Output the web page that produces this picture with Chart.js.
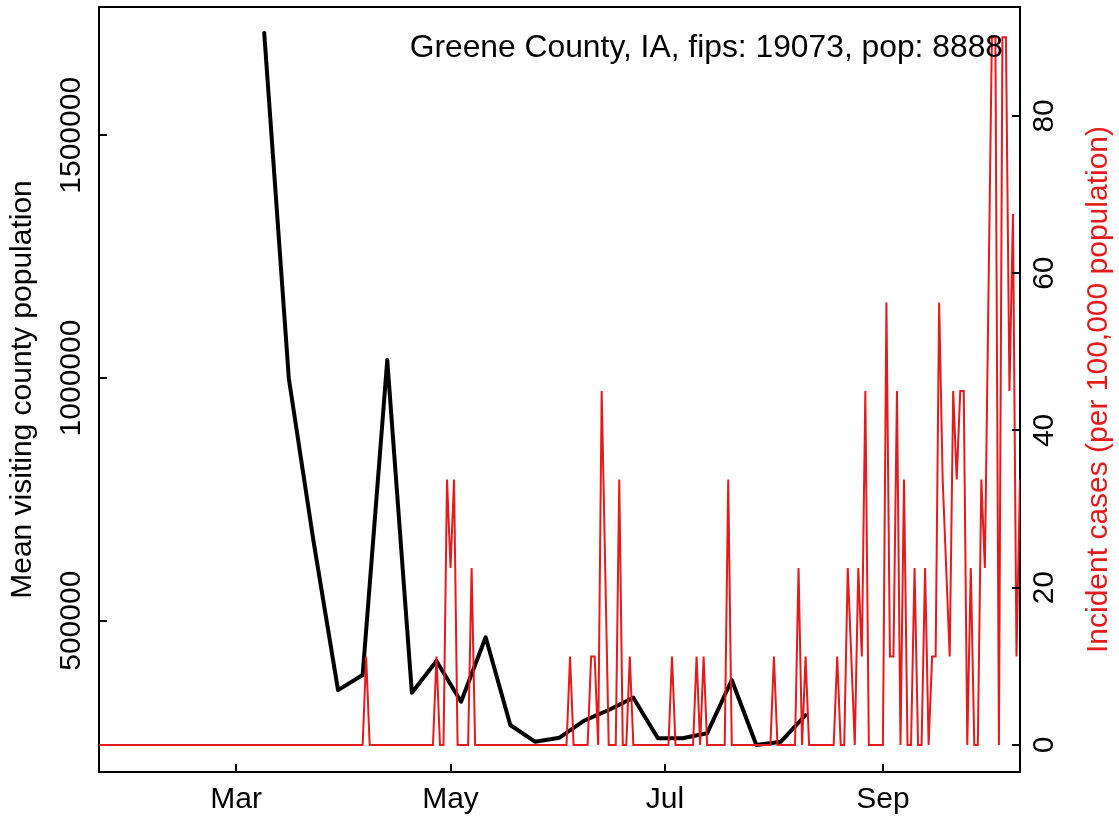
<!DOCTYPE html>
<html><head><meta charset="utf-8">
<script src="https://cdn.jsdelivr.net/npm/chart.js@4/dist/chart.umd.min.js"></script>
<style>html,body{margin:0;padding:0;background:#fff;}</style>
</head><body>
<canvas id="c" width="1119" height="822"></canvas>
<script>
// ---------------- data ----------------
const startDate = '2020-01-22';   // first day of the daily case series
const endDate = '2020-10-10';     // last day shown on the x axis

const weekDates = ['2020-03-09','2020-03-16','2020-03-23','2020-03-30','2020-04-06','2020-04-13',
  '2020-04-20','2020-04-27','2020-05-04','2020-05-11','2020-05-18','2020-05-25','2020-06-01',
  '2020-06-08','2020-06-15','2020-06-22','2020-06-29','2020-07-06','2020-07-13','2020-07-20',
  '2020-07-27','2020-08-03','2020-08-10'];
const visitingPop = [1711000, 999000, 665000, 357000, 388000, 1037000, 351700, 417000, 333100,
  465800, 285100, 250700, 259000, 294000, 316000, 341400, 257700, 257700, 268000, 377800,
  244000, 250700, 305700];

// daily incident cases per 100,000 population, one value per day from startDate
const incidentPer100k = [
  0,0,0,0,0,0,0,0,0,0,
  0,0,0,0,0,0,0,0,0,0,
  0,0,0,0,0,0,0,0,0,0,
  0,0,0,0,0,0,0,0,0,0,
  0,0,0,0,0,0,0,0,0,0,
  0,0,0,0,0,0,0,0,0,0,
  0,0,0,0,0,0,0,0,0,0,
  0,0,0,0,0,0,11.25,0,0,0,
  0,0,0,0,0,0,0,0,0,0,
  0,0,0,0,0,0,11.25,0,0,33.75,
  22.5,33.75,0,0,0,0,22.5,0,0,0,
  0,0,0,0,0,0,0,0,0,0,
  0,0,0,0,0,0,0,0,0,0,
  0,0,0,0,11.25,0,0,0,0,0,
  11.25,11.25,0,45.01,22.5,0,0,0,33.75,0,
  0,11.25,0,0,0,0,0,0,0,0,
  0,0,0,11.25,0,0,0,0,0,0,
  11.25,0,11.25,0,0,0,0,0,0,33.75,
  0,0,0,0,0,0,0,0,0,0,
  0,0,11.25,0,0,0,0,0,0,22.5,
  0,11.25,0,0,0,0,0,0,0,0,
  11.25,0,0,22.5,11.25,0,22.5,11.25,45.01,0,
  0,0,0,0,56.26,11.25,11.25,45.01,0,33.75,
  0,0,22.5,0,0,22.5,0,11.25,11.25,56.26,
  33.75,22.5,11.25,45.01,33.75,45.01,45.01,0,22.5,0,
  0,33.75,22.5,56.26,90.01,90.01,0,90.01,90.01,45.01,
  67.51,11.25,33.75
];

const xTickDates = ['2020-03-01','2020-05-01','2020-07-01','2020-09-01'];
const xTickLabels = ['Mar','May','Jul','Sep'];
const leftTicks = [500000, 1000000, 1500000];
const rightTicks = [0, 20, 40, 60, 80];

const titleText = 'Greene County, IA, fips: 19073, pop: 8888';
const leftTitle = 'Mean visiting county population';
const rightTitle = 'Incident cases (per 100,000 population)';

// ---------------- helpers ----------------
const DAY = 86400000;
const t0 = Date.parse(startDate + 'T00:00:00Z');
const dayOf = d => Math.round((Date.parse(d + 'T00:00:00Z') - t0) / DAY);

const RED = '#e41a1c';
const FONT = "'Liberation Sans', Arial, Helvetica, sans-serif";
Chart.defaults.font.family = FONT;
Chart.defaults.font.size = 30;
Chart.defaults.color = '#000';

const redPts = incidentPer100k.map((v, i) => ({x: i, y: v}));
const blackPts = weekDates.map((d, i) => ({x: dayOf(d), y: visitingPop[i]}));
const xTickVals = xTickDates.map(dayOf);

const TICK = 8;
const framePlugin = {
  id: 'frame',
  afterDraw(chart) {
    const {ctx, chartArea: a, scales} = chart;
    ctx.save();
    ctx.strokeStyle = '#000';
    ctx.lineWidth = 2;
    ctx.beginPath();
    ctx.moveTo(a.left - 1, a.top);
    ctx.lineTo(a.right + 1, a.top);
    // inward tick marks, placed through the scales
    scales.x.ticks.forEach(t => {
      const px = Math.round(scales.x.getPixelForValue(t.value));
      ctx.moveTo(px, a.bottom); ctx.lineTo(px, a.bottom - TICK);
    });
    scales.y.ticks.forEach(t => {
      const py = Math.round(scales.y.getPixelForValue(t.value));
      ctx.moveTo(a.left, py); ctx.lineTo(a.left + TICK, py);
    });
    scales.y2.ticks.forEach(t => {
      const py = Math.round(scales.y2.getPixelForValue(t.value));
      ctx.moveTo(a.right, py); ctx.lineTo(a.right - TICK, py);
    });
    ctx.stroke();
    // in-plot title, top right
    ctx.font = '31.8px ' + FONT;
    ctx.fillStyle = '#000';
    ctx.textAlign = 'right';
    ctx.textBaseline = 'alphabetic';
    ctx.fillText(titleText, 1003, 56.5);
    // right axis title (reads bottom to top)
    ctx.translate(1098.6, (a.top + a.bottom) / 2);
    ctx.rotate(-Math.PI / 2);
    ctx.font = '30px ' + FONT;
    ctx.fillStyle = RED;
    ctx.textAlign = 'center';
    ctx.textBaseline = 'middle';
    ctx.fillText(rightTitle, 0, 0);
    ctx.restore();
  }
};

const noGrid = {display: true, drawOnChartArea: false, drawTicks: false, color: '#000'};
const border = {display: true, color: '#000', width: 2};
const zeroPad = s => { s.paddingTop = 0; s.paddingBottom = 0; s.paddingLeft = 0; s.paddingRight = 0; };

new Chart(document.getElementById('c'), {
  type: 'line',
  data: {
    datasets: [
      {label: 'cases', data: redPts, yAxisID: 'y2', borderColor: RED, borderWidth: 2,
        pointRadius: 0, tension: 0, fill: false, borderJoinStyle: 'miter'},
      {label: 'visiting', data: blackPts, yAxisID: 'y', borderColor: '#000', borderWidth: 4,
        pointRadius: 0, tension: 0, fill: false, borderJoinStyle: 'round', borderCapStyle: 'round'}
    ]
  },
  options: {
    responsive: false,
    animation: false,
    events: [],
    layout: {padding: {top: 7, left: 0, right: 0, bottom: 0}, autoPadding: false},
    plugins: {legend: {display: false}, tooltip: {enabled: false}, title: {display: false}},
    scales: {
      x: {
        type: 'linear', position: 'bottom', min: 0, max: dayOf(endDate),
        grid: noGrid, border: border,
        ticks: {padding: 9.6, autoSkip: false, maxRotation: 0, minRotation: 0, color: '#000',
          callback: (v, i) => xTickLabels[i]},
        afterBuildTicks: s => { s.ticks = xTickVals.map(v => ({value: v})); },
        afterFit: s => { s.height = 50; zeroPad(s); }
      },
      y: {
        type: 'linear', position: 'left', min: 188300, max: 1764300,
        grid: noGrid, border: border,
        title: {display: true, text: leftTitle, color: '#000', padding: {top: 4.6, bottom: 0}},
        ticks: {minRotation: 90, maxRotation: 90, crossAlign: 'center', padding: -31, color: '#000',
          callback: v => String(v)},
        afterBuildTicks: s => { s.ticks = leftTicks.map(v => ({value: v})); },
        afterFit: s => { s.width = 99; zeroPad(s); }
      },
      y2: {
        type: 'linear', position: 'right', min: -3.45, max: 93.85,
        grid: noGrid, border: border,
        ticks: {minRotation: 90, maxRotation: 90, crossAlign: 'center', padding: 7.9, color: '#000',
          callback: v => String(v)},
        afterBuildTicks: s => { s.ticks = rightTicks.map(v => ({value: v})); },
        afterFit: s => { s.width = 99; zeroPad(s); }
      }
    }
  },
  plugins: [framePlugin]
});
</script>
</body></html>
